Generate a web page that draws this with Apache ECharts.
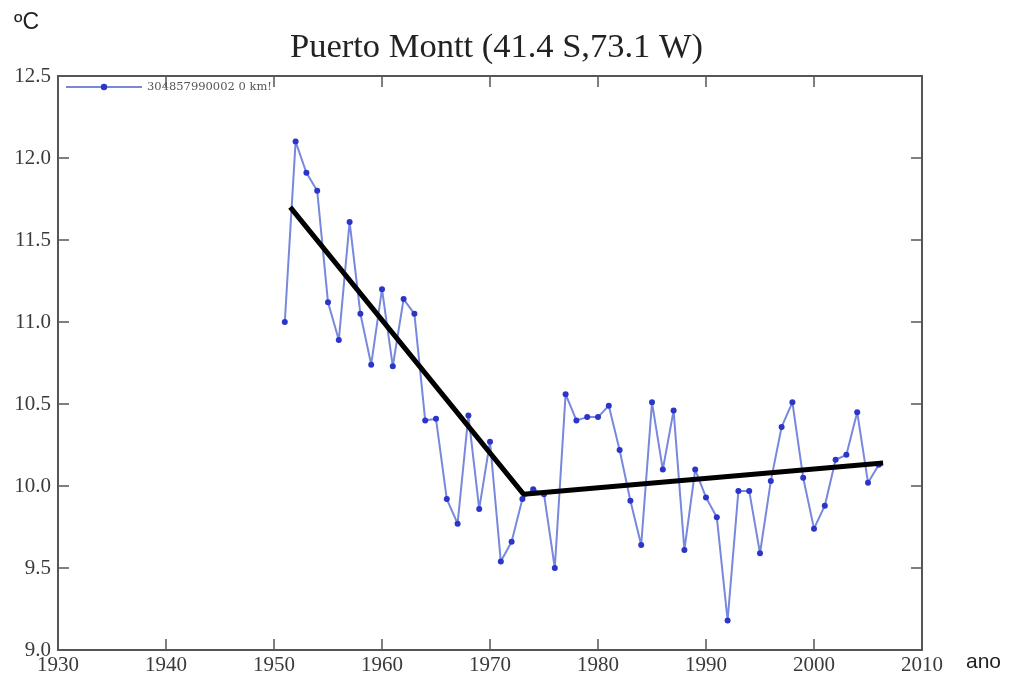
<!DOCTYPE html>
<html>
<head>
<meta charset="utf-8">
<script src="https://cdn.jsdelivr.net/npm/echarts@6/dist/echarts.min.js"></script>
<style>html,body{margin:0;padding:0;background:#fff}#c{width:1017px;height:679px}</style>
</head>
<body>
<div id="c"></div>
<script>
const years = [1951,1952,1953,1954,1955,1956,1957,1958,1959,1960,1961,1962,1963,1964,1965,1966,1967,1968,1969,1970,1971,1972,1973,1974,1975,1976,1977,1978,1979,1980,1981,1982,1983,1984,1985,1986,1987,1988,1989,1990,1991,1992,1993,1994,1995,1996,1997,1998,1999,2000,2001,2002,2003,2004,2005,2006];
const temps = [11.00,12.10,11.91,11.80,11.12,10.89,11.61,11.05,10.74,11.20,10.73,11.14,11.05,10.40,10.41,9.92,9.77,10.43,9.86,10.27,9.54,9.66,9.92,9.98,9.95,9.50,10.56,10.40,10.42,10.42,10.49,10.22,9.91,9.64,10.51,10.10,10.46,9.61,10.10,9.93,9.81,9.18,9.97,9.97,9.59,10.03,10.36,10.51,10.05,9.74,9.88,10.16,10.19,10.45,10.02,10.13];
const trendX = [1951.5, 1973.1, 2006.4];
const trendY = [11.70, 9.95, 10.14];
const seriesName = '304857990002 0 km!';
const titleText = 'Puerto Montt (41.4 S,73.1 W)';
const yUnit = 'ºC';
const xUnit = 'ano';

const chart = echarts.init(document.getElementById('c'));
const axisLine = {show:true, lineStyle:{color:'#555', width:2}};
const tick = {show:true, inside:true, length:11, lineStyle:{color:'#555', width:1.5}};
const lbl = {fontFamily:'Liberation Serif', fontSize:21, color:'#3a3a3a'};
chart.setOption({
  animation:false,
  backgroundColor:'#fff',
  title:{text:titleText, left:285, top:25, textStyle:{fontFamily:'Liberation Serif', fontSize:34.5, fontWeight:'normal', color:'#222'}},
  graphic:[
    {type:'text', left:14, top:11, style:{text:yUnit, font:'23px "Liberation Sans"', fill:'#222'}},
    {type:'text', left:966, top:652, style:{text:xUnit, font:'21px "Liberation Sans"', fill:'#222'}}
  ],
  legend:{show:true, left:60, top:76, itemWidth:76, itemHeight:8, itemGap:4, data:[seriesName],
    textStyle:{fontFamily:'DejaVu Serif', fontSize:11.5, color:'#555'}},
  grid:{left:58, right:95, top:76, bottom:29},
  xAxis:[
    {type:'value', min:1930, max:2010, interval:10, position:'bottom', axisLine, axisTick:tick, splitLine:{show:false},
      axisLabel:{...lbl, margin:5, formatter:v=>String(v)}},
    {type:'value', min:1930, max:2010, interval:10, position:'top', axisLine, axisTick:tick, splitLine:{show:false}, axisLabel:{show:false}}
  ],
  yAxis:[
    {type:'value', min:9.0, max:12.5, interval:0.5, position:'left', axisLine, axisTick:tick, splitLine:{show:false},
      axisLabel:{...lbl, margin:7, formatter:v=>v.toFixed(1)}},
    {type:'value', min:9.0, max:12.5, interval:0.5, position:'right', axisLine, axisTick:tick, splitLine:{show:false}, axisLabel:{show:false}}
  ],
  series:[
    {name:seriesName, type:'line', data:years.map((y,i)=>[y,temps[i]]), symbol:'circle', symbolSize:6,
      lineStyle:{color:'#7888dc', width:2}, itemStyle:{color:'#2b35c8'}},
    {name:'trend', type:'line', data:trendX.map((x,i)=>[x,trendY[i]]), symbol:'none',
      lineStyle:{color:'#000', width:5}, z:5}
  ]
});
</script>
</body>
</html>
